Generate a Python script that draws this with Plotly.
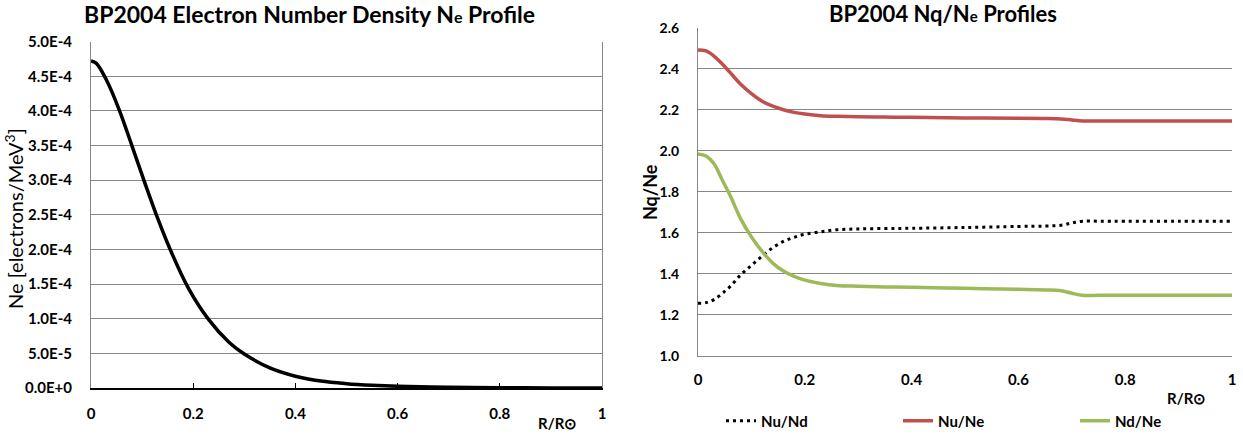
import plotly.graph_objects as go

W, H = 1243, 434

# ---- BP2004 electron number density profile ----
r_ne = [0.0, 0.01, 0.03, 0.055, 0.08, 0.105, 0.13, 0.155, 0.19, 0.23, 0.27, 0.30,
        0.35, 0.40, 0.45, 0.50, 0.55, 0.60, 0.70, 0.80, 0.90, 1.00]
ne = [4.72e-4, 4.69e-4, 4.45e-4, 4.02e-4, 3.50e-4, 2.97e-4, 2.46e-4, 2.00e-4, 1.45e-4,
      0.99e-4, 0.66e-4, 0.49e-4, 0.29e-4, 0.17e-4, 0.10e-4, 0.063e-4, 0.04e-4, 0.025e-4,
      0.01e-4, 0.004e-4, 0.001e-4, 0.0]

ne_ticks = [0, 5e-5, 1e-4, 1.5e-4, 2e-4, 2.5e-4, 3e-4, 3.5e-4, 4e-4, 4.5e-4, 5e-4]
ne_tick_labels = ["0.0E+0", "5.0E-5", "1.0E-4", "1.5E-4", "2.0E-4", "2.5E-4",
                  "3.0E-4", "3.5E-4", "4.0E-4", "4.5E-4", "5.0E-4"]

r_ticks = [0, 0.2, 0.4, 0.6, 0.8, 1.0]
r_tick_labels = ["0", "0.2", "0.4", "0.6", "0.8", "1"]

# ---- BP2004 quark-to-electron density ratios ----
r_q = [0.0, 0.015, 0.03, 0.045, 0.06, 0.08, 0.10, 0.12, 0.14, 0.16, 0.18, 0.20, 0.23,
       0.26, 0.30, 0.35, 0.40, 0.50, 0.60, 0.65, 0.68, 0.70, 0.72, 0.75, 0.80, 0.90, 1.00]
nu_nd = [1.256, 1.259, 1.274, 1.303, 1.337, 1.395, 1.441, 1.486, 1.527, 1.558, 1.578,
         1.593, 1.605, 1.615, 1.619, 1.621, 1.622, 1.626, 1.631, 1.633, 1.637, 1.648,
         1.657, 1.657, 1.657, 1.657, 1.657]
nu_ne = [2.493, 2.488, 2.463, 2.425, 2.383, 2.325, 2.279, 2.242, 2.218, 2.201, 2.188,
         2.180, 2.172, 2.169, 2.167, 2.165, 2.164, 2.161, 2.159, 2.158, 2.156, 2.151,
         2.146, 2.146, 2.146, 2.146, 2.146]
nd_ne = [1.985, 1.975, 1.937, 1.860, 1.783, 1.668, 1.580, 1.509, 1.452, 1.413, 1.387,
         1.369, 1.353, 1.343, 1.339, 1.336, 1.334, 1.329, 1.324, 1.321, 1.317, 1.305,
         1.295, 1.295, 1.295, 1.295, 1.295]

ratio_ticks = [1.0, 1.2, 1.4, 1.6, 1.8, 2.0, 2.2, 2.4, 2.6]

FONT = "Lato"
GRID = "#868686"
RED = "#C0504D"
GREEN = "#9BBB59"


def px_x(x):
    return x / W


def px_y(y):
    return 1 - y / H


tick_font = dict(family=FONT, size=15, color="#000000", weight="bold")
ratio_tick_font = dict(family=FONT, size=14, color="#000000", weight="bold")

fig = go.Figure()

fig.add_trace(go.Scatter(
    x=r_ne, y=ne, mode="lines", line=dict(color="#000000", width=3.5, shape="spline"),
    xaxis="x", yaxis="y", showlegend=False, name="Ne"))

fig.add_trace(go.Scatter(
    x=r_q, y=nu_nd, mode="lines", name="Nu/Nd",
    line=dict(color="#000000", width=3, dash="3px,4px", shape="spline"),
    xaxis="x2", yaxis="y2"))
fig.add_trace(go.Scatter(
    x=r_q, y=nu_ne, mode="lines", name="Nu/Ne",
    line=dict(color=RED, width=3.5, shape="spline"),
    xaxis="x2", yaxis="y2"))
fig.add_trace(go.Scatter(
    x=r_q, y=nd_ne, mode="lines", name="Nd/Ne",
    line=dict(color=GREEN, width=3.5, shape="spline"),
    xaxis="x2", yaxis="y2"))

fig.update_layout(
    width=W, height=H,
    margin=dict(l=0, r=0, t=0, b=0, autoexpand=False),
    paper_bgcolor="#ffffff", plot_bgcolor="#ffffff",
    font=dict(family=FONT, color="#000000"),
    xaxis=dict(
        domain=[px_x(91), px_x(602)], range=[0, 1], anchor="y",
        tickvals=r_ticks, ticktext=r_tick_labels, tickfont=tick_font,
        ticks="inside", ticklen=5, tickwidth=1, tickcolor="#000000",
        showline=True, linecolor="#000000", linewidth=2,
        showgrid=False, zeroline=False, ticklabelstandoff=11),
    yaxis=dict(
        domain=[px_y(388), px_y(41.7)], range=[0, 5e-4], anchor="x",
        tickvals=ne_ticks, ticktext=ne_tick_labels, tickfont=tick_font,
        ticks="", showline=True, linecolor=GRID, linewidth=1, mirror=True,
        showgrid=True, gridcolor=GRID, gridwidth=1, zeroline=False,
        ticklabelstandoff=15),
    xaxis2=dict(
        domain=[px_x(698), px_x(1232)], range=[0, 1], anchor="y2",
        tickvals=r_ticks, ticktext=r_tick_labels, tickfont=tick_font,
        ticks="", showline=True, linecolor=GRID, linewidth=1,
        showgrid=False, zeroline=False, ticklabelstandoff=10),
    yaxis2=dict(
        domain=[px_y(355.7), px_y(28)], range=[1.0, 2.6], anchor="x2",
        tickvals=ratio_ticks, tickformat=".1f", tickfont=ratio_tick_font,
        ticks="", showline=True, linecolor=GRID, linewidth=1,
        showgrid=True, gridcolor=GRID, gridwidth=1, zeroline=False,
        ticklabelstandoff=15),
    legend=dict(
        orientation="h", x=px_x(721), y=px_y(421), xanchor="left", yanchor="middle",
        entrywidth=132, entrywidthmode="pixels", bgcolor="rgba(0,0,0,0)",
        font=dict(family=FONT, size=15, color="#000000", weight="bold"),
        tracegroupgap=0),
)

annotations = [
    dict(text="BP2004 Electron Number Density N<span style='font-size:16px'>e</span> Profile",
         x=px_x(309), y=px_y(14),
         font=dict(family=FONT, size=23, color="#000000", weight="bold")),
    dict(text="BP2004 Nq/N<span style='font-size:15px'>e</span> Profiles",
         x=px_x(943), y=px_y(14),
         font=dict(family=FONT, size=22, color="#000000", weight="bold")),
    dict(text="Ne [electrons/MeV<sup>3</sup>]", textangle=-90,
         x=px_x(14), y=px_y(219),
         font=dict(family=FONT, size=20, color="#000000")),
    dict(text="Nq/Ne", textangle=-90, x=px_x(650), y=px_y(192),
         font=dict(family=FONT, size=18, color="#000000", weight="bold")),
    dict(text="R/R\u2299", x=px_x(557), y=px_y(423),
         font=dict(family=FONT, size=15, color="#000000", weight="bold")),
    dict(text="R/R\u2299", x=px_x(1186), y=px_y(398),
         font=dict(family=FONT, size=15, color="#000000", weight="bold")),
]
for a in annotations:
    a.update(xref="paper", yref="paper", showarrow=False,
             xanchor="center", yanchor="middle")
fig.update_layout(annotations=annotations)

fig.write_html("out.html")
